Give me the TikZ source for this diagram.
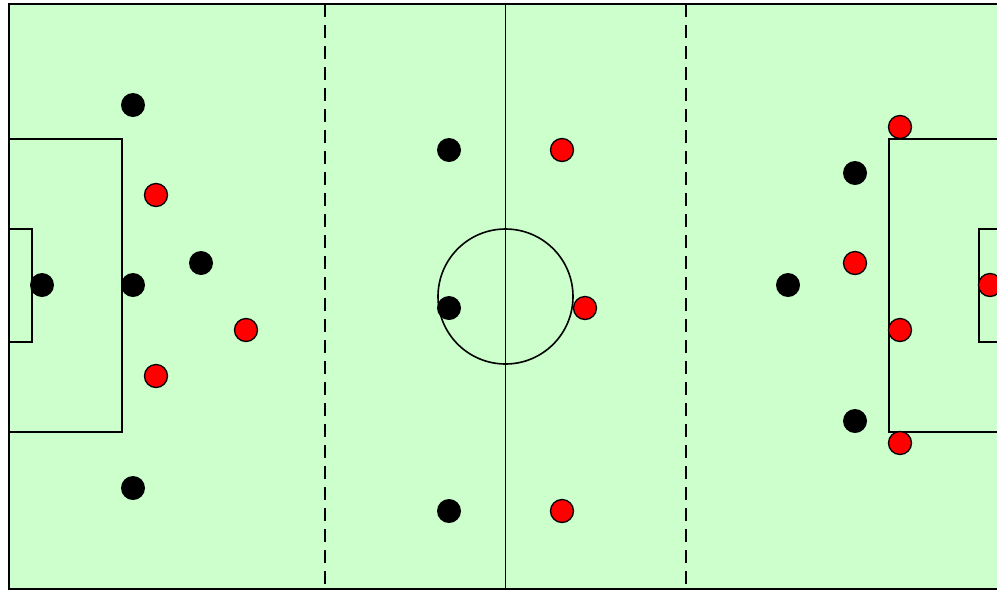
\documentclass[tikz,border=0pt]{standalone}
\begin{document}
\begin{tikzpicture}[x=1pt,y=-1pt,
  pitchline/.style={draw=black,line width=1.6pt},
  blk/.style={circle,fill=black,draw=none,minimum size=24pt,inner sep=0pt},
  red/.style={circle,fill=red,draw=black,line width=1.3pt,minimum size=23pt,inner sep=0pt}]
\definecolor{grass}{HTML}{CCFFCC}
\useasboundingbox (0,0) rectangle (997,590);
\clip (0,0) rectangle (997,590);
\fill[white] (0,0) rectangle (997,590);
\fill[grass,pitchline] (9,4) rectangle (1002,589);
\draw[pitchline] (505.5,4) -- (505.5,589);
\draw[pitchline,dash pattern=on 13pt off 8pt] (325,4) -- (325,589);
\draw[pitchline,dash pattern=on 13pt off 8pt] (686,4) -- (686,589);
\draw[pitchline] (505.5,296.5) circle (67.5);
\draw[pitchline] (9,139) rectangle (122,432);
\draw[pitchline] (9,229) rectangle (32,342);
\draw[pitchline] (1002,139) rectangle (889,432);
\draw[pitchline] (1002,229) rectangle (979,342);
% black team
\node[blk] (b1) at (133,105) {};
\node[blk] (b2) at (42,285) {};
\node[blk] (b3) at (133,285) {};
\node[blk] (b4) at (201,263) {};
\node[blk] (b5) at (133,488) {};
\node[blk] (b6) at (449,150) {};
\node[blk] (b7) at (449,308) {};
\node[blk] (b8) at (449,511) {};
\node[blk] (b9) at (855,173) {};
\node[blk] (b10) at (788,285) {};
\node[blk] (b11) at (855,421) {};
% red team
\node[red] (r1) at (156,195) {};
\node[red] (r2) at (246,330) {};
\node[red] (r3) at (156,376) {};
\node[red] (r4) at (562,150) {};
\node[red] (r5) at (585,308) {};
\node[red] (r6) at (562,511) {};
\node[red] (r7) at (900,127) {};
\node[red] (r8) at (855,263) {};
\node[red] (r9) at (900,330) {};
\node[red] (r10) at (900,443) {};
\node[red] (r11) at (990,285) {};
\end{tikzpicture}
\end{document}
